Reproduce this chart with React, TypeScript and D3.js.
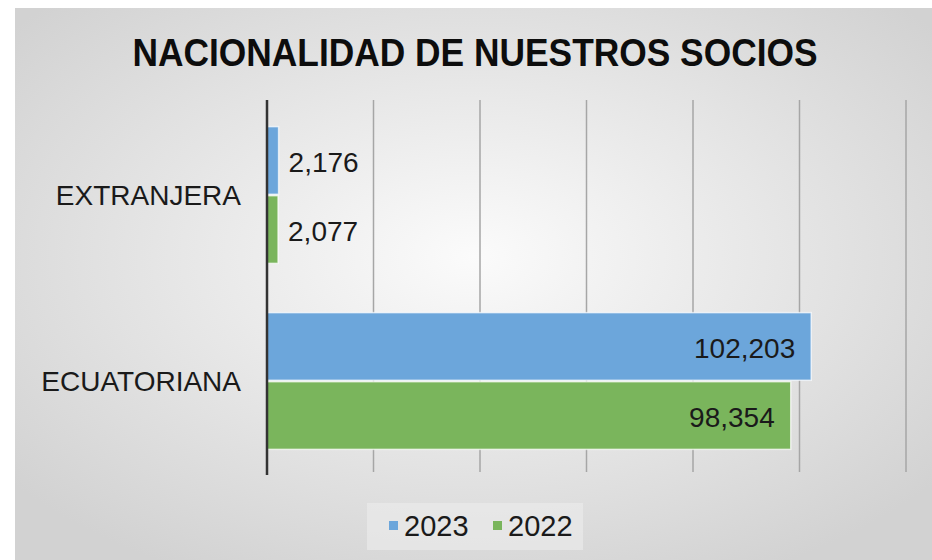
import React from "react";
import * as d3 from "d3";

// chart data
const categories = ["EXTRANJERA", "ECUATORIANA"];
const seriesNames = ["2023", "2022"];
const values2023 = [2176, 102203];
const values2022 = [2077, 98354];
const xTicks = [0, 20000, 40000, 60000, 80000, 100000, 120000];

const colors = ["#6ca6db", "#7ab55c"];
const font = "'Liberation Sans', Arial, sans-serif";

export default function App() {
  const w = 932;
  const h = 560;
  const left = 267;
  const right = 906;
  const top = 102;
  const bottom = 474;

  const xScale = d3.scaleLinear().domain([0, 120000]).range([left, right]);
  const yScale = d3
    .scaleBand()
    .domain(categories)
    .range([top, bottom])
    .paddingInner(0.25)
    .paddingOuter(0.125);
  const inner = d3
    .scaleBand()
    .domain(seriesNames)
    .range([0, yScale.bandwidth()])
    .padding(0.02);

  const series = [values2023, values2022];
  const fmt = d3.format(",");

  return (
    <svg
      width={w}
      height={h}
      style={{ position: "absolute", left: 0, top: 0, display: "block" }}
    >
      <defs>
        <radialGradient id="bg" cx="50%" cy="45%" r="65%">
          <stop offset="0%" stopColor="#fbfbfb" />
          <stop offset="100%" stopColor="#d2d2d2" />
        </radialGradient>
      </defs>
      <rect x={0} y={0} width={w} height={h} fill="#ffffff" />
      <rect x={15} y={8} width={w - 15} height={h - 8} fill="url(#bg)" />

      <text
        x={475}
        y={66}
        textAnchor="middle"
        fontFamily={font}
        fontWeight="bold"
        fontSize={39}
        textLength={685}
        lengthAdjust="spacingAndGlyphs"
        fill="#0d0d0d"
      >
        NACIONALIDAD DE NUESTROS SOCIOS
      </text>

      {/* gridlines */}
      {xTicks.slice(1).map((t) => (
        <line
          key={t}
          x1={xScale(t)}
          x2={xScale(t)}
          y1={top - 2}
          y2={bottom - 2}
          stroke="#a6a6a6"
          strokeWidth={1.5}
        />
      ))}

      {/* bars */}
      {categories.map((c, i) => (
        <g key={c} transform={`translate(0,${yScale(c)})`}>
          {series.map((vals, s) => (
            <rect
              key={s}
              x={xScale(0)}
              y={inner(seriesNames[s])}
              width={xScale(vals[i]) - xScale(0)}
              height={inner.bandwidth()}
              fill={colors[s]}
              stroke="#ffffff"
              strokeOpacity={0.7}
              strokeWidth={1.5}
            />
          ))}
          {series.map((vals, s) => {
            const big = vals[i] > 50000;
            return (
              <text
                key={"l" + s}
                x={big ? xScale(vals[i]) - 16 : xScale(vals[i]) + 10}
                y={(inner(seriesNames[s]) ?? 0) + inner.bandwidth() / 2 + 1}
                dy="0.36em"
                textAnchor={big ? "end" : "start"}
                fontFamily={font}
                fontSize={28}
                fill="#1a1a1a"
              >
                {fmt(vals[i])}
              </text>
            );
          })}
          <text
            x={left - 26}
            y={yScale.bandwidth() / 2}
            dy="0.36em"
            textAnchor="end"
            fontFamily={font}
            fontSize={28}
            fill="#1a1a1a"
          >
            {c}
          </text>
        </g>
      ))}

      {/* category axis */}
      <line
        x1={left}
        x2={left}
        y1={top - 2}
        y2={bottom + 1}
        stroke="#333333"
        strokeWidth={2.5}
      />

      {/* legend */}
      <rect x={367} y={503} width={216} height={47} fill="#ececec" opacity={0.6} />
      {seriesNames.map((n, s) => (
        <g key={n} transform={`translate(${389 + s * 104},0)`}>
          <rect x={0} y={521} width={9} height={9} fill={colors[s]} />
          <text
            x={15}
            y={526}
            dy="0.36em"
            fontFamily={font}
            fontSize={29}
            fill="#1a1a1a"
          >
            {n}
          </text>
        </g>
      ))}
    </svg>
  );
}
